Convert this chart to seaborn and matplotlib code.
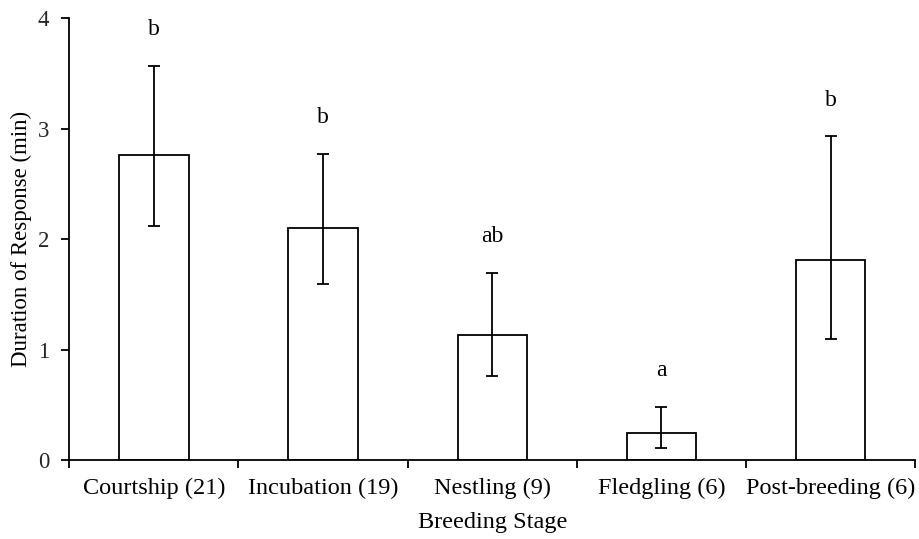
import matplotlib
matplotlib.use("Agg")
import matplotlib.pyplot as plt
import seaborn as sns
import numpy as np
import pandas as pd
from matplotlib.ticker import FixedLocator

categories = ["Courtship (21)", "Incubation (19)", "Nestling (9)", "Fledgling (6)", "Post-breeding (6)"]
means = [2.76, 2.10, 1.13, 0.245, 1.81]
upper = [3.57, 2.77, 1.69, 0.477, 2.93]
lower = [2.12, 1.59, 0.76, 0.109, 1.10]
letters = ["b", "b", "ab", "a", "b"]
y_ticks = [0, 1, 2, 3, 4]

sns.set_style("white")
plt.rcParams['font.family'] = ['Liberation Serif', 'DejaVu Serif']

df = pd.DataFrame({"stage": categories, "duration": means})

fig = plt.figure(figsize=(9.2, 5.39), dpi=100)
ax = fig.add_axes([0.0753, 0.1466, 0.9194, 0.8194])

sns.barplot(data=df, x="stage", y="duration", ax=ax, color="white",
            edgecolor="black", linewidth=1.3, width=0.41, errorbar=None)

x = np.arange(len(categories))
m = np.array(means)
yerr = np.vstack([m - np.array(lower), np.array(upper) - m])
ax.errorbar(x, m, yerr=yerr, fmt="none", ecolor="black", elinewidth=1.3,
            capsize=4.6, capthick=1.3)

for xi, u, lab in zip(x, upper, letters):
    ax.text(xi, u + 0.28, lab, ha="center", va="baseline", fontsize=17, color="black")

ax.set_xlim(-0.5, len(categories) - 0.5)
ax.set_ylim(0, 4)
ax.set_yticks(y_ticks)
ax.set_yticklabels([str(t) for t in y_ticks])

ax.xaxis.set_minor_locator(FixedLocator(np.arange(-0.5, len(categories), 1.0)))
ax.tick_params(axis="x", which="major", length=0, pad=13, labelsize=17.5, colors="black")
ax.tick_params(axis="x", which="minor", length=8 * 0.72, width=1.3, direction="out", color="black", bottom=True)
ax.tick_params(axis="y", which="major", length=8 * 0.72, width=1.3, direction="out", color="black",
               left=True, labelsize=16.5, pad=8.5)

for s in ["top", "right"]:
    ax.spines[s].set_visible(False)
for s in ["left", "bottom"]:
    ax.spines[s].set_color("black")
    ax.spines[s].set_linewidth(1.3)

ax.set_xlabel("Breeding Stage", fontsize=17.5, labelpad=9, color="black")
ax.set_ylabel("Duration of Response (min)", fontsize=16.5, labelpad=4, color="black")

fig.savefig("out.png", dpi=100)
